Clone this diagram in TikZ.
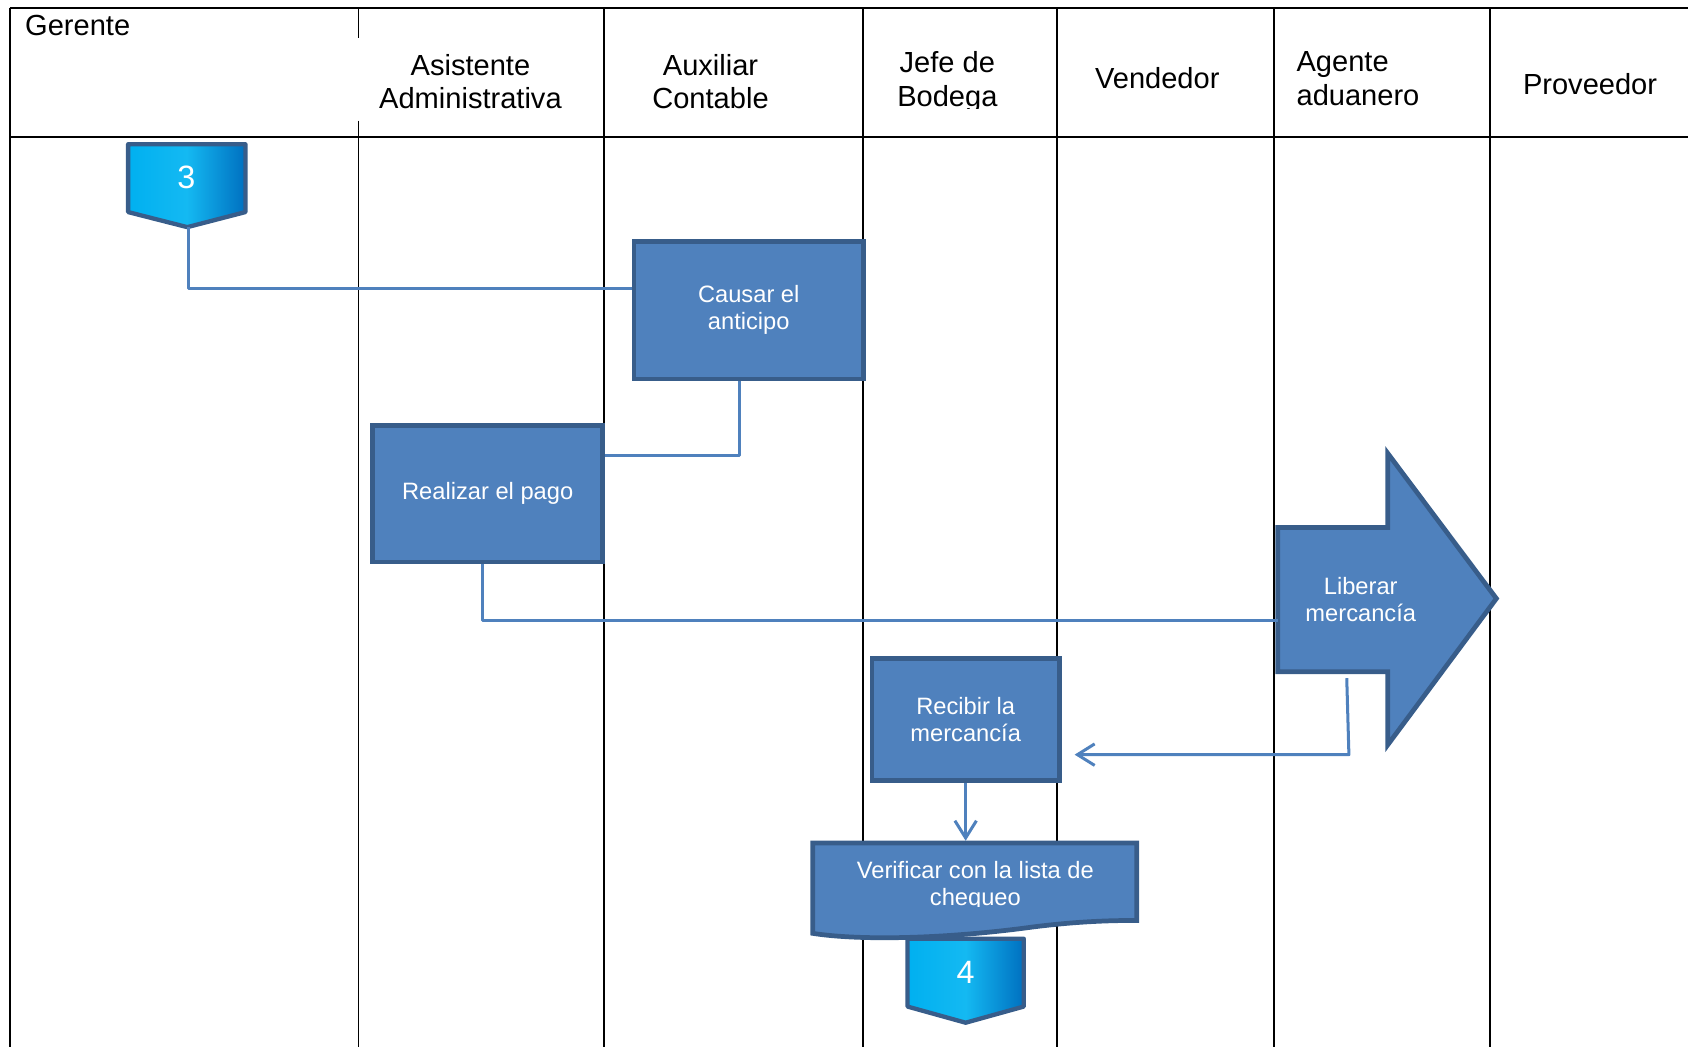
\documentclass[tikz,border=0pt]{standalone}
\usepackage{fontspec}
\setmainfont{Liberation Sans}
\usetikzlibrary{arrows.meta}
\definecolor{boxfill}{HTML}{4F81BD}
\definecolor{boxedge}{HTML}{385D8A}
\definecolor{lineblue}{HTML}{4F81BD}
\definecolor{cyanL}{HTML}{00B0F0}
\definecolor{cyanM}{HTML}{14B9F2}
\definecolor{blueD}{HTML}{0070C0}
\tikzset{
 lane/.style={line width=0.9pt, draw=black},
 hdr/.style={font=\fontsize{13.5}{15.5}\selectfont, align=center, inner sep=0pt},
 procbox/.style={draw=boxedge, fill=boxfill, line width=2.2pt, text=white, font=\fontsize{11}{12.5}\selectfont, align=center, inner sep=0pt},
 boxtext/.style={text=white, font=\fontsize{11}{12.5}\selectfont, align=center, inner sep=0pt},
 numtext/.style={text=white, font=\fontsize{15}{17}\selectfont, inner sep=0pt},
 offpage/.style={draw=boxedge, line width=2pt, line join=round, left color=cyanL, right color=blueD, middle color=cyanM},
 shapefill/.style={draw=boxedge, fill=boxfill, line width=2.2pt},
 flow/.style={draw=lineblue, line width=1.4pt, line join=round},
 tipend/.style={-{Straight Barb[length=8pt,width=10pt]}},
}
\begin{document}
\begin{tikzpicture}[x=0.5pt,y=-0.5pt]
\useasboundingbox (0,0) rectangle (1568,973);
% ---- swimlane table
\draw[lane] (9,7) -- (1568,7);
\draw[lane] (9,127) -- (1568,127);
\draw[lane] (9,7) -- (9,973);
\draw[lane] (333,7) -- (333,35);
\draw[lane] (333,112) -- (333,973);
\foreach \x in {561,802,982,1183,1384} \draw[lane] (\x,7) -- (\x,973);
% ---- headers
\node[hdr, anchor=base west] (hger) at (23,33) {Gerente};
\node[hdr] (hasi) at (437,76) {Asistente\\Administrativa};
\node[hdr] (haux) at (660,76) {Auxiliar\\Contable};
\begin{scope}
\clip (803,20) rectangle (981,101);
\node[hdr] (hjef) at (880,76) {Jefe de\\Bodega};
\end{scope}
\node[hdr] (hven) at (1075,73) {Vendedor};
\node[hdr, align=left, anchor=west] (hage) at (1204,73) {Agente\\aduanero};
\node[hdr] (hpro) at (1477,78) {Proveedor};
% ---- off-page connector 3
\draw[offpage] (119,134) -- (228,134) -- (228,197) -- (174,211) -- (119,197) -- cycle;
\node[numtext] (c3) at (173,165) {3};
\coordinate (c3tip) at (175,211);
% ---- process boxes
\node[procbox, minimum width=106.5pt, minimum height=64pt] (causar) at (695.5,288) {Causar el\\anticipo};
\node[procbox, minimum width=107pt, minimum height=63.5pt] (realizar) at (453,458.5) {Realizar el pago};
\node[procbox, minimum width=87pt, minimum height=56.5pt] (recibir) at (897,668.5) {Recibir la\\mercancía};
% ---- block arrow Liberar mercancia
\draw[shapefill] (1187,490) -- (1289,490) -- (1289,421) -- (1390,556) -- (1289,692) -- (1289,624) -- (1187,624) -- cycle;
\node[boxtext] (liberar) at (1264,557) {Liberar\\mercancía};
\coordinate (libwest) at (1187,576);
\coordinate (libout) at (1251,630);
\coordinate (libturn) at (1253,701);
% ---- off-page connector 4 (under the document)
\draw[offpage] (843,872) -- (951,872) -- (951,935) -- (897,950) -- (843,935) -- cycle;
\node[numtext] (c4) at (897,903) {4};
% ---- document shape
\draw[shapefill] (755,783) -- (1056,783) -- (1056,855)
  .. controls (1030,855) and (1000,856) .. (960,861)
  .. controls (880,872) and (800,874) .. (755,867) -- cycle;
\begin{scope}
\clip (760,790) rectangle (1050,842);
\node[boxtext] (verificar) at (906,823) {Verificar con la lista de\\chequeo};
\end{scope}
\coordinate (vertop) at (897,781);
% ---- connectors
\draw[flow] (c3tip) |- ([yshift=10pt]causar.west);
\draw[flow] ([xshift=-4.25pt]causar.south) |- ([yshift=17.75pt]realizar.east);
\draw[flow] ([xshift=-2.5pt]realizar.south) |- (libwest);
\draw[flow, tipend] (libout) -- (libturn) -- ([xshift=6pt,yshift=-16.25pt]recibir.east);
\draw[flow, tipend] (recibir.south) -- (vertop);
\end{tikzpicture}
\end{document}
